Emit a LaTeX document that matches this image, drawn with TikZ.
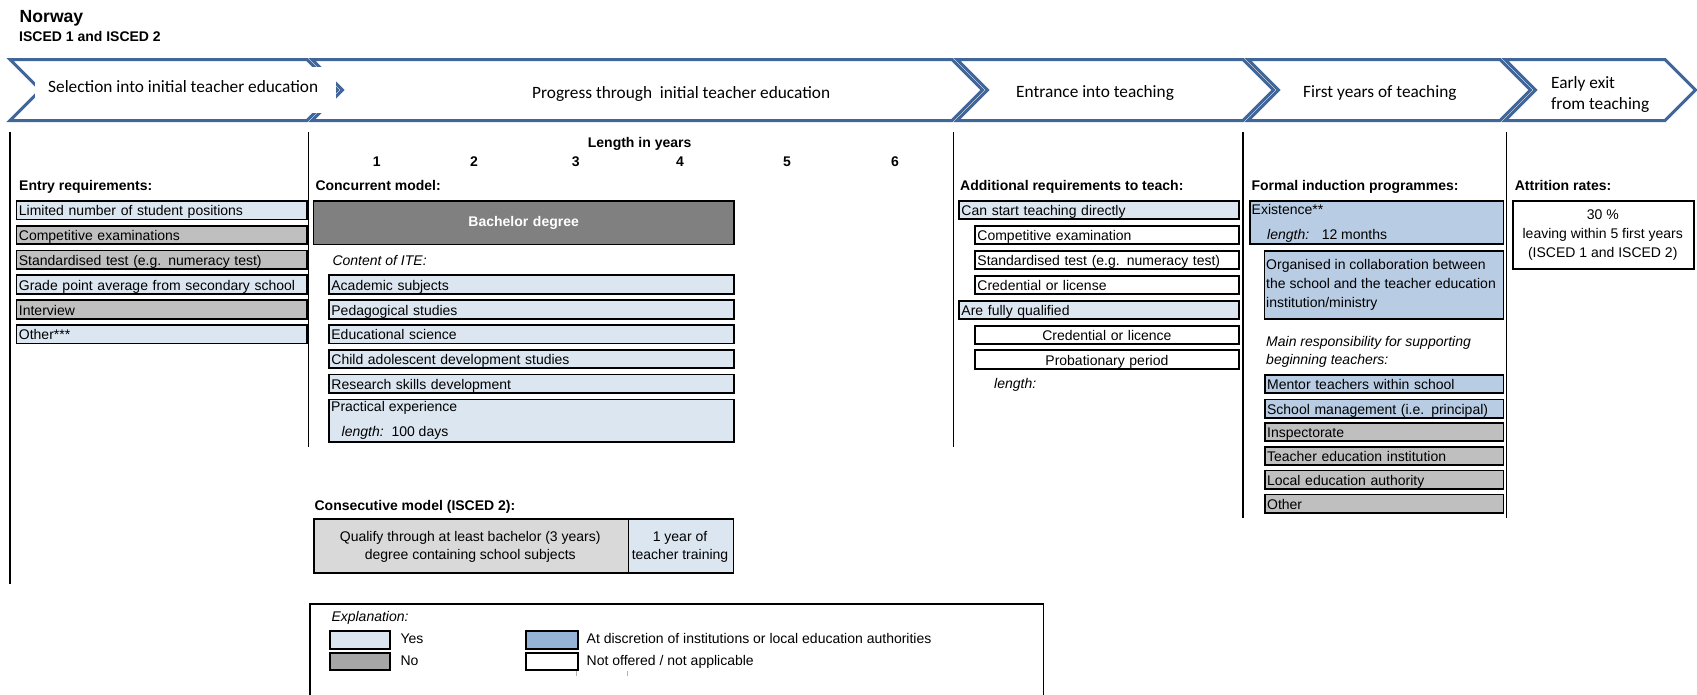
\documentclass[tikz,border=0pt]{standalone}
\usepackage{fontspec}
\setmainfont{Liberation Sans}
\newfontfamily\arialf{Liberation Sans}
\newfontfamily\calf{Carlito}
\definecolor{yesc}{HTML}{DCE6F1}
\definecolor{noc}{HTML}{BFBFBF}
\definecolor{discc}{HTML}{B8CCE4}
\definecolor{legnoc}{HTML}{A6A6A6}
\definecolor{legdiscc}{HTML}{95B3D7}
\definecolor{bachc}{HTML}{808080}
\definecolor{consc}{HTML}{D9D9D9}
\definecolor{banc}{HTML}{41679A}
\newcommand{\bodyf}{\arialf\fontsize{14}{17}\selectfont}
\newcommand{\bannerf}{\calf\fontsize{17.3}{21}\selectfont}
\newcommand{\cellbx}[7]{%
  \pgfmathsetmacro\cbw{#4-#2}%
  \pgfmathsetmacro\cbh{#5-#3}%
  \pgfmathsetmacro\cbt{#4-#2-5}%
  \node[cellbox,minimum width=\cbw pt,minimum height=\cbh pt,text width=\cbt pt,#6] (#1) at (#2,#3) {#7};}
\newcommand{\banchev}[2]{\draw[chev] (#1,59.5) -- (#2,59.5) -- (#2+30.5,90) -- (#2,120.5) -- (#1,120.5) -- (#1+30.5,90) -- cycle;}
\begin{document}
\begin{tikzpicture}[x=1pt,y=-1pt,
  cellbox/.style={draw=black,line width=1.8pt,rectangle,anchor=north west,inner xsep=2.5pt,inner ysep=0pt,text height=11.5pt,text depth=0pt,align=left,font=\bodyf},
  yesbox/.style={fill=yesc},
  nobox/.style={fill=noc},
  discbox/.style={fill=discc},
  nabox/.style={fill=white},
  legnobox/.style={fill=legnoc},
  legdiscbox/.style={fill=legdiscc},
  bachbox/.style={fill=bachc,text=white,font=\bodyf\bfseries,align=center,text height=8.5pt},
  consbox/.style={fill=consc},
  lbl/.style={anchor=base west,inner sep=0pt,font=\bodyf},
  lblb/.style={anchor=base west,inner sep=0pt,font=\bodyf\bfseries},
  lbli/.style={anchor=base west,inner sep=0pt,font=\bodyf\itshape},
  lblc/.style={anchor=base,inner sep=0pt,font=\bodyf},
  yearlbl/.style={anchor=base,inner sep=0pt,font=\bodyf\bfseries},
  bant/.style={anchor=base west,inner sep=0pt,font=\bannerf},
  chev/.style={draw=banc,fill=white,line width=3pt,line join=miter},
  divl/.style={draw=black,line width=1.8pt},
  tickmk/.style={draw=black!30,line width=0.8pt}]
\useasboundingbox (0,0) rectangle (1697,694);
\fill[white] (0,0) rectangle (1697,694);

% title
\node[anchor=base west,inner sep=0pt,font=\arialf\bfseries\fontsize{17.6}{20}\selectfont] (title) at (19.5,22) {Norway};
\node[lblb] (subtitle) at (19,41) {ISCED 1 and ISCED 2};

% banner
\banchev{10}{307}
\banchev{312}{952}
\banchev{957}{1243}
\banchev{1248}{1500}
\banchev{1505}{1665}
\node[fill=white,anchor=north west,inner sep=0pt,minimum width=301pt,minimum height=46pt] (b1bg) at (35,67) {};
\node[bant] (b1t) at (48,92) {Selection into initial teacher education};
\node[bant] (b2t) at (532,98) {Progress through\ \ initial teacher education};
\node[bant] (b3t) at (1016,97.7) {Entrance into teaching};
\node[bant] (b4t) at (1303,97.7) {First years of teaching};
\node[bant] (b5a) at (1551,88.3) {Early exit};
\node[bant] (b5b) at (1551,109.3) {from teaching};

% dividers
\draw[divl] (10,132) -- (10,584);
\draw[divl] (308.5,132) -- (308.5,447);
\draw[divl] (953.5,132) -- (953.5,447);
\draw[divl] (1242.8,132) -- (1242.8,518);
\draw[divl] (1506.5,132) -- (1506.5,518);

% headings
\node[lblb] (hentry) at (19,190) {Entry requirements:};
\node[lblb] (hconc) at (315.3,190) {Concurrent model:};
\node[lblb] (hadd) at (960,190.5) {Additional requirements to teach:};
\node[lblb] (hind) at (1251.4,190.5) {Formal induction programmes:};
\node[lblb] (hatt) at (1514.6,190.5) {Attrition rates:};
\node[yearlbl] (hlen) at (639.6,147.5) {Length in years};
\node[yearlbl] (y1) at (376.7,166.5) {1};
\node[yearlbl] (y2) at (474,166.5) {2};
\node[yearlbl] (y3) at (575.7,166.5) {3};
\node[yearlbl] (y4) at (680,166.5) {4};
\node[yearlbl] (y5) at (787,166.5) {5};
\node[yearlbl] (y6) at (895,166.5) {6};

% entry requirements
\cellbx{e1}{15.5}{200}{306}{218.5}{yesbox}{Limited number of student positions}
\cellbx{e2}{15.5}{224.8}{306}{243.3}{nobox}{Competitive examinations}
\cellbx{e3}{15.5}{249.6}{306}{268.1}{nobox}{Standardised test (e.g. numeracy test)}
\cellbx{e4}{15.5}{274.4}{306}{292.9}{yesbox}{Grade point average from secondary school}
\cellbx{e5}{15.5}{299.2}{306}{317.7}{nobox}{Interview}
\cellbx{e6}{15.5}{324}{306}{342.5}{yesbox}{Other***}

% concurrent model
\cellbx{bach}{312.5}{200}{733}{243.5}{bachbox}{Bachelor degree}
\node[lbli] (cite) at (332.3,265) {Content of ITE:};
\cellbx{a1}{328}{274.4}{733}{292.9}{yesbox}{Academic subjects}
\cellbx{a2}{328}{299.2}{733}{317.7}{yesbox}{Pedagogical studies}
\cellbx{a3}{328}{324}{733}{342.5}{yesbox}{Educational science}
\cellbx{a4}{328}{348.8}{733}{367.3}{yesbox}{Child adolescent development studies}
\cellbx{a5}{328}{373.6}{733}{392.1}{yesbox}{Research skills development}
\cellbx{a6}{328}{398.5}{733}{441}{yesbox}{}
\node[lbl] (pe1) at (331,411.5) {Practical experience};
\node[lbl] (pe2) at (341.5,436) {\textit{length:}\ \ 100 days};

% consecutive model
\node[lblb] (consh) at (314.4,510) {Consecutive model (ISCED 2):};
\cellbx{c1}{313}{517.7}{627.5}{572.3}{consbox}{}
\cellbx{c2}{627.5}{517.7}{732.5}{572.3}{yesbox}{}
\node[lblc] (c1a) at (470.25,541.2) {Qualify through at least bachelor (3 years)};
\node[lblc] (c1b) at (470.25,559.5) {degree containing school subjects};
\node[lblc] (c2a) at (680,541.2) {1 year of};
\node[lblc] (c2b) at (680,559.5) {teacher training};

% additional requirements
\cellbx{ad1}{958}{200}{1238}{218.3}{yesbox}{Can start teaching directly}
\cellbx{ad2}{974}{225}{1238}{243.3}{nabox}{Competitive examination}
\cellbx{ad3}{974}{250}{1238}{268.3}{nabox}{Standardised test (e.g. numeracy test)}
\cellbx{ad4}{974}{275}{1238}{293.3}{nabox}{Credential or license}
\cellbx{ad5}{958}{300}{1238}{318.3}{yesbox}{Are fully qualified}
\cellbx{ad6}{974}{325}{1238}{343.3}{nabox,align=center}{Credential or licence}
\cellbx{ad7}{974}{349.3}{1238}{368.3}{nabox,align=center}{Probationary period}
\node[lbli] (adl) at (994,388) {length:};

% formal induction
\cellbx{f1}{1249}{200}{1502.5}{243.3}{discbox}{}
\node[lbl] (f1a) at (1251.5,214.5) {Existence**};
\node[lbl] (f1b) at (1267,239.5) {\textit{length:}\hspace{12.5pt}12 months};
\cellbx{f2}{1263.5}{250}{1502.5}{318.3}{discbox}{}
\node[lbl] (f2a) at (1266,269.5) {Organised in collaboration between};
\node[lbl] (f2b) at (1266,288) {the school and the teacher education};
\node[lbl] (f2c) at (1266,307) {institution/ministry};
\node[lbli] (mr1) at (1266,346.5) {Main responsibility for supporting};
\node[lbli] (mr2) at (1266,364.3) {beginning teachers:};
\cellbx{f3}{1263.7}{374.3}{1502.5}{392.3}{discbox}{Mentor teachers within school}
\cellbx{f4}{1263.7}{398.6}{1502.5}{416.7}{discbox}{School management (i.e. principal)}
\cellbx{f5}{1263.7}{421.8}{1502.5}{440}{nobox}{Inspectorate}
\cellbx{f6}{1263.7}{445.8}{1502.5}{464.2}{nobox}{Teacher education institution}
\cellbx{f7}{1263.7}{469.5}{1502.5}{487.8}{nobox}{Local education authority}
\cellbx{f8}{1263.7}{493.5}{1502.5}{512.2}{nobox}{Other}

% attrition
\cellbx{att}{1512.2}{200}{1693.3}{268.3}{nabox}{}
\node[lblc] (att1) at (1602.75,219.5) {30 \%};
\node[lblc] (att2) at (1602.75,238) {leaving within 5 first years};
\node[lblc] (att3) at (1602.75,257) {(ISCED 1 and ISCED 2)};

% legend
\node[draw=black,line width=1.8pt,anchor=north west,inner sep=0pt,minimum width=733.5pt,minimum height=120pt] (leg) at (309,602.7) {};
\node[lbli] (legt) at (331.3,621.5) {Explanation:};
\cellbx{lyes}{329.3}{630}{388.8}{647.7}{yesbox}{}
\cellbx{lno}{329.3}{652.3}{388.8}{669.3}{legnobox}{}
\cellbx{ldisc}{525.4}{630}{576.7}{647.7}{legdiscbox}{}
\cellbx{lna}{525.4}{652.3}{576.7}{669.3}{nabox}{}
\node[lbl] (lyest) at (400.3,643.3) {Yes};
\node[lbl] (lnot) at (400.3,665.5) {No};
\node[lbl] (ldisct) at (586.5,643.3) {At discretion of institutions or local education authorities};
\node[lbl] (lnat) at (586.5,665.5) {Not offered / not applicable};
\draw[tickmk] (576.5,671) -- (576.5,676);
\draw[tickmk] (627.5,671) -- (627.5,676);
\end{tikzpicture}
\end{document}
